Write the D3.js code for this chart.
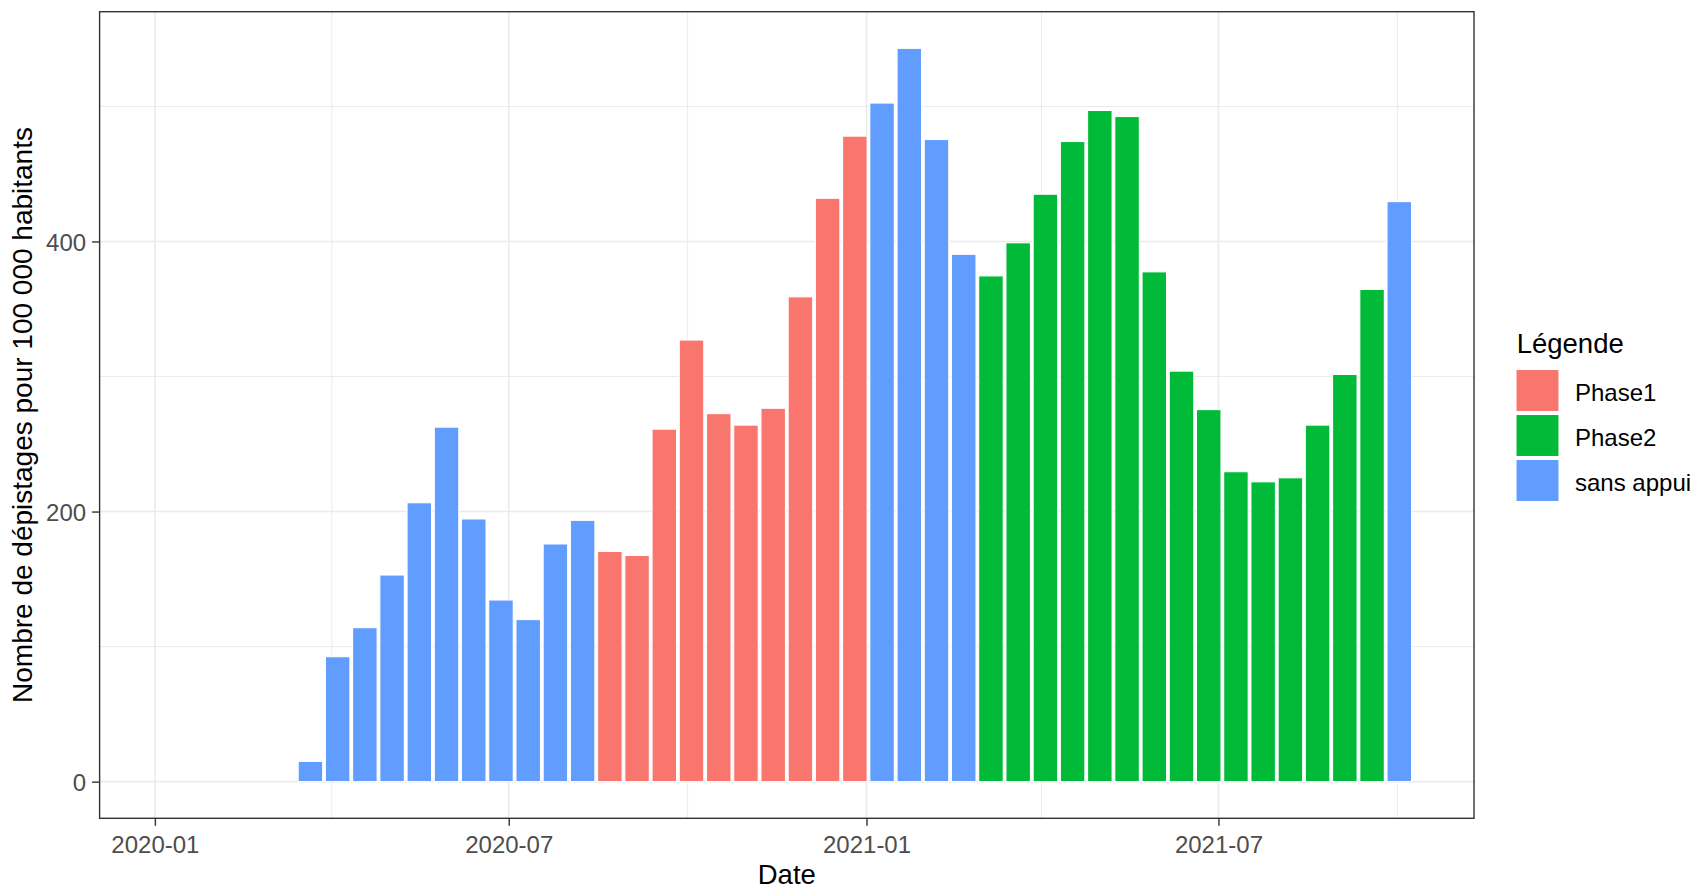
<!DOCTYPE html>
<html>
<head>
<meta charset="utf-8">
<script src="https://cdn.jsdelivr.net/npm/d3@7"></script>
<style>
  html, body { margin: 0; padding: 0; background: #fff; }
  svg { display: block; font-family: "Liberation Sans", Arial, sans-serif; }
</style>
</head>
<body>
<svg id="chart" width="1698" height="889"></svg>
<script>
// ---- data ----
const dates = ["2020-01-11","2020-01-25","2020-02-08","2020-02-22","2020-03-07",
  "2020-03-21","2020-04-04","2020-04-18","2020-05-02","2020-05-16","2020-05-30","2020-06-13","2020-06-27","2020-07-11","2020-07-25","2020-08-08",
  "2020-08-22","2020-09-05","2020-09-19","2020-10-03","2020-10-17","2020-10-31","2020-11-14","2020-11-28","2020-12-12","2020-12-26",
  "2021-01-09","2021-01-23","2021-02-06","2021-02-20",
  "2021-03-06","2021-03-20","2021-04-03","2021-04-17","2021-05-01","2021-05-15","2021-05-29","2021-06-12","2021-06-26","2021-07-10","2021-07-24","2021-08-07","2021-08-21","2021-09-04","2021-09-18",
  "2021-10-02"];
const values = [0,0,0,0,0,
  15,92.5,114,153,206.5,262.5,194.5,134.5,120,176,193.5,
  170.5,167.5,261,327,272.5,264,276.5,359,432,478,
  502.5,543,475.5,390.5,
  374.5,399,435,474,497,492.5,377.5,304,275.5,229.5,222,225,264,301.5,364.5,
  429.5];
const phases = ["sans appui","sans appui","sans appui","sans appui","sans appui",
  "sans appui","sans appui","sans appui","sans appui","sans appui","sans appui","sans appui","sans appui","sans appui","sans appui","sans appui",
  "Phase1","Phase1","Phase1","Phase1","Phase1","Phase1","Phase1","Phase1","Phase1","Phase1",
  "sans appui","sans appui","sans appui","sans appui",
  "Phase2","Phase2","Phase2","Phase2","Phase2","Phase2","Phase2","Phase2","Phase2","Phase2","Phase2","Phase2","Phase2","Phase2","Phase2",
  "sans appui"];
const legendLevels = ["Phase1","Phase2","sans appui"];
const legendColors = ["#F8766D","#00BA38","#619CFF"];
const xTickDates = ["2020-01-01","2020-07-01","2021-01-01","2021-07-01"];
const xMinorDates = ["2020-04-01","2020-10-01","2021-04-01","2021-10-01"];
const yTicks = [0,200,400];
const yMinor = [100,300,500];
const xTitle = "Date";
const yTitle = "Nombre de dépistages pour 100 000 habitants";
const legendTitle = "Légende";

// ---- layout ----
const parse = d3.utcParse("%Y-%m-%d");
const data = dates.map((d,i)=>({date: parse(d), value: values[i], phase: phases[i]}));
const panel = {left: 99.6, right: 1474, top: 11.7, bottom: 818.3};
const DAY = 86400000;
const halfW = 0.9*14/2; // bar half width in days

const dMin = d3.min(data, d=>+d.date) - halfW*DAY;
const dMax = d3.max(data, d=>+d.date) + halfW*DAY;
const padX = (dMax-dMin)*0.05;
const x = d3.scaleUtc().domain([new Date(dMin-padX), new Date(dMax+padX)]).range([panel.left, panel.right]);

const vMax = d3.max(values);
const padY = vMax*0.05;
const y = d3.scaleLinear().domain([0-padY, vMax+padY]).range([panel.bottom, panel.top]);

const color = d3.scaleOrdinal().domain(legendLevels).range(legendColors);

const svg = d3.select("#chart");

// panel bg
svg.append("rect").attr("x",panel.left).attr("y",panel.top)
  .attr("width",panel.right-panel.left).attr("height",panel.bottom-panel.top).attr("fill","#fff");

const grid = svg.append("g");
// minor grid
grid.selectAll(".ymin").data(yMinor).join("line")
  .attr("x1",panel.left).attr("x2",panel.right)
  .attr("y1",d=>y(d)).attr("y2",d=>y(d))
  .attr("stroke","#EBEBEB").attr("stroke-width",1);
grid.selectAll(".xmin").data(xMinorDates.map(parse)).join("line")
  .attr("y1",panel.top).attr("y2",panel.bottom)
  .attr("x1",d=>x(d)).attr("x2",d=>x(d))
  .attr("stroke","#EBEBEB").attr("stroke-width",1);
// major grid
grid.selectAll(".ymaj").data(yTicks).join("line")
  .attr("x1",panel.left).attr("x2",panel.right)
  .attr("y1",d=>y(d)).attr("y2",d=>y(d))
  .attr("stroke","#EBEBEB").attr("stroke-width",1.6);
grid.selectAll(".xmaj").data(xTickDates.map(parse)).join("line")
  .attr("y1",panel.top).attr("y2",panel.bottom)
  .attr("x1",d=>x(d)).attr("x2",d=>x(d))
  .attr("stroke","#EBEBEB").attr("stroke-width",1.6);

// bars
svg.append("g").selectAll("rect").data(data.filter(d=>d.value>0)).join("rect")
  .attr("x", d=>x(new Date(+d.date - halfW*DAY)))
  .attr("width", d=>x(new Date(+d.date + halfW*DAY)) - x(new Date(+d.date - halfW*DAY)))
  .attr("y", d=>y(d.value))
  .attr("height", d=>y(0)-y(d.value))
  .attr("fill", d=>color(d.phase))
  .attr("stroke","#fff").attr("stroke-width",1.07);

// panel border
svg.append("rect").attr("x",panel.left).attr("y",panel.top)
  .attr("width",panel.right-panel.left).attr("height",panel.bottom-panel.top)
  .attr("fill","none").attr("stroke","#333333").attr("stroke-width",1.4);

// axes
const xAxis = d3.axisBottom(x).tickValues(xTickDates.map(parse))
  .tickFormat(d3.utcFormat("%Y-%m")).tickSize(7.5).tickPadding(5);
const gx = svg.append("g").attr("transform",`translate(0,${panel.bottom})`).call(xAxis);
gx.select(".domain").remove();
gx.selectAll(".tick line").attr("stroke","#333333").attr("stroke-width",1.4);
gx.selectAll(".tick text").attr("fill","#4D4D4D").attr("font-size",24)
  .attr("font-family","'Liberation Sans', Arial, sans-serif").attr("dy",null).attr("y",34.4);

const yAxis = d3.axisLeft(y).tickValues(yTicks).tickFormat(d3.format("d")).tickSize(7.5).tickPadding(6);
const gy = svg.append("g").attr("transform",`translate(${panel.left},0)`).call(yAxis);
gy.select(".domain").remove();
gy.selectAll(".tick line").attr("stroke","#333333").attr("stroke-width",1.4);
gy.selectAll(".tick text").attr("fill","#4D4D4D").attr("font-size",24)
  .attr("font-family","'Liberation Sans', Arial, sans-serif").attr("dy","0.36em");

// titles
svg.append("text").attr("x",(panel.left+panel.right)/2).attr("y",884)
  .attr("text-anchor","middle").attr("font-size",27.5).attr("fill","#000").text(xTitle);
svg.append("text").attr("transform",`translate(32,${(panel.top+panel.bottom)/2}) rotate(-90)`)
  .attr("text-anchor","middle").attr("font-size",28).attr("fill","#000").text(yTitle);

// legend
const lg = svg.append("g");
lg.append("text").attr("x",1516.7).attr("y",353.3).attr("font-size",27.5).attr("fill","#000").text(legendTitle);
const items = lg.selectAll(".item").data(legendLevels).join("g")
  .attr("transform",(d,i)=>`translate(1516,${369.5+i*45})`);
items.append("rect").attr("x",0).attr("y",0).attr("width",43).attr("height",42)
  .attr("fill",d=>color(d)).attr("stroke","#fff").attr("stroke-width",1.07);
items.append("text").attr("x",59).attr("y",21+10.5).attr("font-size",24).attr("fill","#000").text(d=>d);
</script>
</body>
</html>
